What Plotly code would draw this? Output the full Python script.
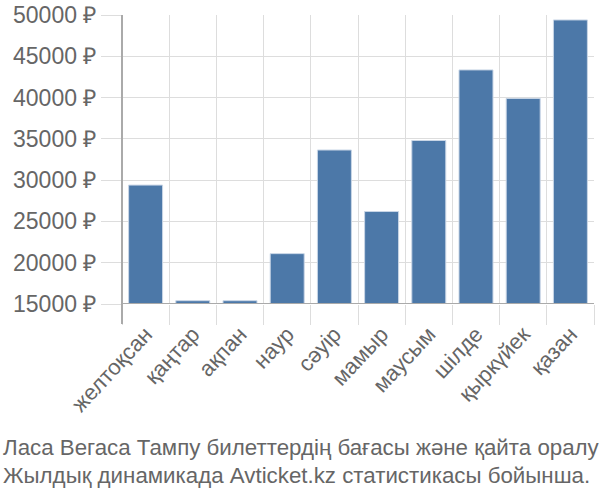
import plotly.graph_objects as go

categories = ["желтоқсан", "қаңтар", "ақпан", "наур", "сәуір", "мамыр",
              "маусым", "шілде", "қыркүйек", "қазан"]
prices = [29400, 15400, 15400, 21100, 33650, 26200, 34800, 43350, 39900, 49400]
y_ticks = [15000, 20000, 25000, 30000, 35000, 40000, 45000, 50000]
y_tick_labels = [f"{v} ₽" for v in y_ticks]
caption = ["Ласа Вегаса Тампу билеттердің бағасы және қайта оралу",
           "Жылдық динамикада Avticket.kz статистикасы бойынша."]

W, H = 600, 500
ml, mr, mt, mb = 122, 6, 15, 196
pw = W - ml - mr
ph = H - mt - mb

fig = go.Figure(go.Bar(
    x=categories, y=prices, base=0,
    marker=dict(color="#4c78a8", line=dict(color="#c9d6e6", width=1)),
    width=0.72,
))

font = "Liberation Sans, Arial, sans-serif"
fig.update_layout(
    width=W, height=H,
    margin=dict(l=ml, r=mr, t=mt, b=mb, autoexpand=False),
    plot_bgcolor="white", paper_bgcolor="white",
    showlegend=False,
    font=dict(family=font, color="#666666"),
    xaxis=dict(
        type="category", tickson="boundaries", automargin=False,
        range=[-0.5, len(categories) - 0.5],
        showgrid=True, gridcolor="#dddddd", gridwidth=1,
        ticks="outside", ticklen=20, tickcolor="#dddddd",
        tickangle=-47, tickfont=dict(size=22, color="#666666"),
        ticklabelstandoff=12,
        showline=False, zeroline=False,
    ),
    yaxis=dict(
        range=[15000, 50000], automargin=False,
        tickvals=y_ticks, ticktext=y_tick_labels,
        showgrid=True, gridcolor="#dddddd", gridwidth=1,
        ticks="outside", ticklen=20, tickcolor="#dddddd",
        tickfont=dict(size=23, color="#666666"),
        showline=False, zeroline=False,
    ),
)

# bottom axis line at 15000
fig.add_shape(type="line", xref="paper", yref="y", x0=0, x1=1, y0=15000, y1=15000,
              line=dict(color="#aaaaaa", width=2), layer="above")
# left axis line extending into tick area
fig.add_shape(type="line", xref="paper", yref="paper", x0=0, x1=0, y0=-20 / ph, y1=1,
              line=dict(color="#aaaaaa", width=2), layer="above")

for i, line in enumerate(caption):
    fig.add_annotation(
        text=line, xref="paper", yref="paper",
        x=(1 - ml) / pw, y=(H - mb - (447 + 28 * i)) / ph,
        xanchor="left", yanchor="middle", showarrow=False,
        font=dict(size=22.3, color="#666666", family=font),
    )

fig.write_html("out.html", config={"displayModeBar": False},
               post_script="document.body.style.margin='0';document.body.style.overflow='hidden';")
